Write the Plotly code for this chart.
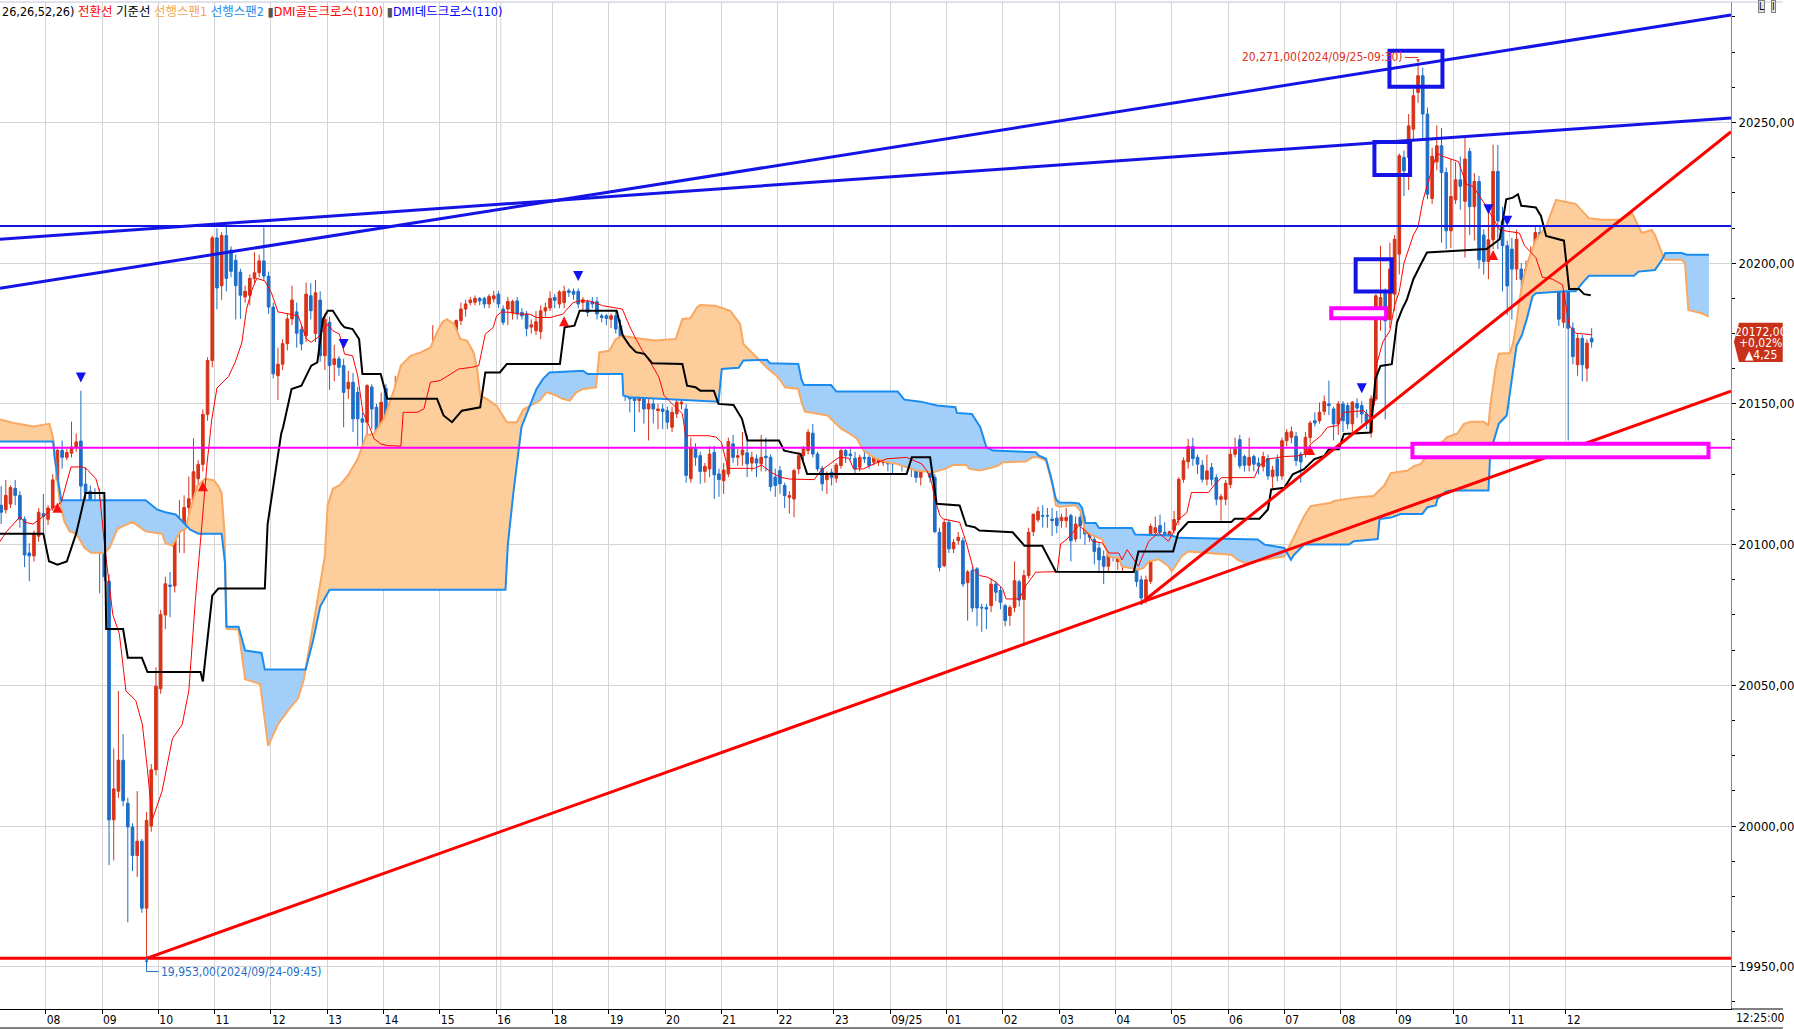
import plotly.graph_objects as go

# 5-minute bars, bar 0 = 07:10 (09/24), last bar 339 = 12:25 (09/25)
opens = [
    20114.0, 20112.4, 20114.4, 20120.0, 20117.5, 20109.0, 20097.0, 20096.0, 20103.0, 20111.0,
    20109.0, 20113.0, 20123.0, 20133.5, 20131.0, 20132.5, 20134.5, 20136.8, 20121.5, 20119.0,
    20107.0, 20101.0, 20100.8, 20087.0, 20002.2, 20012.4, 20023.4, 20008.1, 19999.7, 19989.5,
    19994.6, 19970.8, 20000.0, 20020.0, 20048.8, 20075.0, 20085.6, 20085.3, 20104.7, 20107.3,
    20113.2, 20115.8, 20123.4, 20128.5, 20146.3, 20165.4, 20209.0, 20192.0, 20209.8, 20204.7,
    20201.0, 20196.8, 20188.0, 20188.6, 20194.6, 20196.6, 20200.8, 20195.4, 20184.4, 20160.0,
    20164.1, 20171.4, 20180.2, 20182.7, 20176.4, 20174.2, 20188.4, 20175.0, 20186.9, 20167.1,
    20179.0, 20164.0, 20166.0, 20163.6, 20155.4, 20157.7, 20154.1, 20144.7, 20143.5, 20156.0,
    20148.8, 20136.4, 20155.5, 20143.5, 20151.2, 20153.5, 20149.4, 20151.8, 20151.8, 20151.2,
    20148.8, 20160.3, 20159.5, 20170.1, 20147.6, 20171.3, 20169.7, 20163.6, 20179.6, 20183.7,
    20186.0, 20186.1, 20187.5, 20187.5, 20185.5, 20187.3, 20189.0, 20183.7, 20183.7, 20182.3,
    20186.6, 20182.5, 20181.9, 20177.3, 20176.0, 20175.7, 20183.0, 20184.1, 20187.8, 20185.5,
    20186.0, 20190.2, 20190.0, 20190.0, 20186.0, 20186.3, 20186.3, 20186.3, 20181.3, 20181.3,
    20180.1, 20181.3, 20177.8, 20171.3, 20153.5, 20153.0, 20151.2, 20153.0, 20148.2, 20150.0,
    20147.6, 20148.2, 20147.6, 20141.7, 20146.5, 20150.0, 20148.2, 20123.4, 20134.0, 20131.6,
    20126.0, 20126.9, 20132.8, 20125.1, 20122.7, 20125.1, 20135.8, 20131.0, 20131.9, 20132.6,
    20129.0, 20130.5, 20128.7, 20131.4, 20131.0, 20124.0, 20126.3, 20121.0, 20116.8, 20116.2,
    20126.9, 20131.6, 20133.4, 20139.6, 20132.2, 20127.1, 20123.1, 20125.7, 20123.6, 20128.1,
    20133.4, 20132.2, 20130.7, 20127.5, 20131.0, 20131.0, 20129.3, 20129.3, 20129.1, 20140.0,
    20134.0, 20131.6, 20133.4, 20130.1, 20130.7, 20128.1, 20123.9, 20126.5, 20131.9, 20123.9,
    20104.4, 20092.5, 20107.9, 20098.5, 20101.4, 20101.4, 20086.5, 20090.8, 20091.4, 20077.7,
    20077.7, 20078.3, 20086.0, 20083.7, 20078.3, 20074.8, 20077.7, 20086.8, 20080.5, 20089.0,
    20104.6, 20108.8, 20110.3, 20110.3, 20109.1, 20109.4, 20108.5, 20108.5, 20110.3, 20102.0,
    20109.7, 20107.9, 20104.4, 20101.8, 20098.8, 20095.8, 20092.3, 20100.8, 20094.0, 20092.3,
    20094.0, 20097.0, 20097.6, 20087.5, 20081.0, 20087.0, 20104.2, 20106.8, 20104.4, 20103.4,
    20105.1, 20108.9, 20123.2, 20129.4, 20134.9, 20131.0, 20128.2, 20123.2, 20127.4, 20123.8,
    20116.1, 20116.1, 20121.4, 20132.1, 20137.3, 20131.3, 20128.2, 20131.3, 20129.0, 20127.7,
    20130.6, 20124.2, 20130.4, 20124.4, 20136.9, 20138.1, 20138.5, 20132.1, 20132.1, 20138.1,
    20144.0, 20144.0, 20147.3, 20150.0, 20148.2, 20142.9, 20150.0, 20149.4, 20142.9, 20150.2,
    20149.4, 20146.4, 20139.9, 20151.7, 20181.0, 20189.6, 20180.0, 20189.0, 20203.2, 20237.6,
    20237.6, 20247.6, 20260.7, 20266.6, 20253.0, 20223.0, 20236.0, 20241.7, 20232.2, 20211.5,
    20222.5, 20229.6, 20222.0, 20239.7, 20220.1, 20229.0, 20210.0, 20200.6, 20208.3, 20232.6,
    20215.0, 20206.2, 20205.0, 20197.9, 20197.9, 20194.3, 20194.3, 20199.0, 20210.9, 20209.7,
    20199.0, 20206.2, 20194.3, 20179.0, 20191.9, 20176.9, 20163.9, 20173.3, 20162.7, 20173.3,
]
highs = [
    20120.8, 20123.0, 20121.0, 20123.0, 20119.0, 20110.0, 20100.5, 20105.0, 20113.0, 20118.0,
    20114.0, 20125.0, 20134.0, 20137.0, 20134.0, 20143.7, 20139.5, 20154.7, 20127.5, 20121.0,
    20120.0, 20120.0, 20104.0, 20089.5, 20027.6, 20048.0, 20032.7, 20010.0, 20001.0, 20012.4,
    19995.4, 20005.0, 20022.0, 20056.4, 20076.8, 20088.6, 20090.3, 20110.7, 20115.8, 20117.5,
    20124.2, 20137.8, 20130.0, 20148.0, 20166.6, 20209.8, 20212.4, 20211.0, 20214.0, 20206.0,
    20203.0, 20198.0, 20192.0, 20196.0, 20203.9, 20203.0, 20212.7, 20197.0, 20186.0, 20170.0,
    20173.0, 20182.0, 20192.0, 20186.0, 20178.0, 20193.1, 20192.9, 20194.0, 20190.0, 20182.0,
    20181.0, 20171.0, 20167.0, 20166.0, 20161.8, 20161.0, 20156.0, 20147.0, 20157.0, 20157.0,
    20150.0, 20154.0, 20157.0, 20152.0, 20160.0, 20158.0, 20158.0, 20158.0, 20156.0, 20153.0,
    20163.0, 20168.0, 20178.0, 20173.0, 20174.0, 20177.8, 20171.0, 20180.0, 20186.0, 20187.0,
    20188.0, 20188.5, 20188.0, 20188.0, 20189.0, 20190.2, 20190.2, 20185.0, 20188.0, 20187.0,
    20188.0, 20184.0, 20183.0, 20180.0, 20183.0, 20185.0, 20186.0, 20190.0, 20189.0, 20190.4,
    20192.0, 20191.0, 20191.0, 20191.0, 20188.0, 20187.0, 20188.0, 20188.0, 20182.0, 20182.0,
    20182.0, 20183.0, 20180.0, 20172.0, 20155.0, 20155.0, 20156.0, 20155.0, 20152.0, 20152.0,
    20150.0, 20150.0, 20149.0, 20149.0, 20152.0, 20156.0, 20150.0, 20138.0, 20136.0, 20133.0,
    20129.0, 20135.0, 20135.0, 20127.0, 20129.0, 20138.0, 20139.0, 20134.0, 20140.0, 20139.0,
    20133.0, 20132.0, 20139.0, 20138.0, 20132.0, 20127.0, 20128.0, 20122.0, 20119.0, 20127.0,
    20133.0, 20135.0, 20141.0, 20142.9, 20133.0, 20128.0, 20126.0, 20127.0, 20129.0, 20134.0,
    20134.0, 20134.0, 20133.0, 20132.0, 20135.0, 20132.0, 20134.0, 20134.0, 20141.0, 20141.0,
    20140.5, 20136.0, 20135.0, 20133.0, 20132.0, 20129.0, 20128.0, 20134.0, 20134.0, 20125.0,
    20106.0, 20109.0, 20109.0, 20102.0, 20104.5, 20102.6, 20091.0, 20092.0, 20092.0, 20079.0,
    20079.0, 20088.0, 20087.0, 20085.0, 20079.0, 20078.5, 20094.0, 20087.5, 20091.0, 20106.0,
    20111.0, 20113.5, 20114.0, 20113.0, 20113.0, 20112.0, 20111.0, 20113.0, 20111.0, 20110.0,
    20111.0, 20110.0, 20106.0, 20103.0, 20101.0, 20098.0, 20100.0, 20102.0, 20099.0, 20099.0,
    20098.0, 20102.0, 20099.0, 20089.0, 20089.0, 20107.5, 20110.0, 20110.7, 20108.0, 20105.0,
    20112.0, 20124.0, 20131.0, 20137.6, 20138.0, 20132.0, 20130.0, 20132.0, 20129.0, 20125.0,
    20118.0, 20123.0, 20134.0, 20138.0, 20139.0, 20132.0, 20138.0, 20132.0, 20131.0, 20133.0,
    20132.0, 20128.0, 20132.0, 20138.0, 20141.0, 20142.0, 20140.0, 20133.0, 20140.0, 20144.0,
    20147.0, 20150.5, 20153.0, 20158.3, 20149.0, 20151.0, 20151.0, 20150.5, 20151.0, 20152.0,
    20151.0, 20148.0, 20153.0, 20189.0, 20206.2, 20191.0, 20207.3, 20210.0, 20239.0, 20240.0,
    20253.0, 20262.0, 20271.0, 20269.5, 20255.3, 20241.0, 20249.0, 20248.0, 20234.0, 20237.0,
    20236.0, 20237.9, 20244.7, 20241.0, 20232.0, 20231.0, 20212.0, 20219.5, 20242.1, 20242.0,
    20220.0, 20208.0, 20209.0, 20212.0, 20200.0, 20201.0, 20206.0, 20213.0, 20213.0, 20212.0,
    20210.0, 20208.0, 20197.0, 20196.0, 20193.0, 20179.0, 20175.0, 20174.5, 20173.0, 20176.9,
]
lows = [
    20107.3, 20111.0, 20113.0, 20114.0, 20106.0, 20092.0, 20087.0, 20094.0, 20101.0, 20104.0,
    20107.0, 20112.0, 20121.0, 20127.0, 20130.0, 20131.0, 20133.0, 20115.8, 20116.0, 20097.0,
    20097.0, 20082.7, 20087.0, 19986.1, 19987.8, 20010.0, 20007.0, 19965.8, 19984.0, 19981.9,
    19969.2, 19953.0, 19998.0, 20018.0, 20047.0, 20070.0, 20074.2, 20083.0, 20097.1, 20097.0,
    20109.0, 20114.0, 20121.0, 20126.0, 20144.0, 20163.0, 20183.6, 20187.0, 20190.0, 20195.0,
    20180.0, 20180.2, 20186.0, 20185.0, 20193.0, 20195.0, 20194.0, 20182.0, 20159.0, 20151.4,
    20162.0, 20169.0, 20178.0, 20170.0, 20169.0, 20172.0, 20180.0, 20172.0, 20165.0, 20162.0,
    20155.0, 20158.0, 20160.0, 20141.7, 20151.8, 20140.0, 20135.0, 20109.2, 20134.0, 20141.0,
    20134.0, 20133.5, 20141.0, 20140.0, 20140.0, 20145.0, 20143.0, 20145.0, 20146.0, 20145.0,
    20144.0, 20150.0, 20157.0, 20141.0, 20139.4, 20166.0, 20161.0, 20162.0, 20178.0, 20181.0,
    20185.0, 20185.0, 20185.0, 20184.0, 20184.0, 20186.0, 20184.0, 20178.0, 20178.0, 20180.0,
    20180.0, 20180.0, 20174.0, 20175.0, 20174.5, 20173.0, 20181.0, 20183.0, 20184.0, 20184.0,
    20184.0, 20188.0, 20187.0, 20184.0, 20183.0, 20181.0, 20184.0, 20180.0, 20179.0, 20178.0,
    20177.0, 20175.0, 20168.0, 20151.0, 20147.0, 20140.0, 20147.0, 20143.0, 20137.0, 20143.0,
    20141.0, 20141.0, 20141.0, 20140.0, 20145.0, 20148.0, 20122.0, 20122.0, 20128.0, 20121.6,
    20122.0, 20124.0, 20116.2, 20117.0, 20118.0, 20124.0, 20129.0, 20128.0, 20128.0, 20124.0,
    20126.0, 20124.0, 20126.0, 20126.0, 20119.0, 20117.0, 20118.0, 20113.0, 20111.0, 20109.7,
    20125.0, 20130.0, 20132.0, 20131.0, 20126.0, 20119.0, 20118.0, 20121.0, 20122.0, 20127.0,
    20129.0, 20130.0, 20125.0, 20126.0, 20129.0, 20127.0, 20128.0, 20128.0, 20128.0, 20126.0,
    20125.0, 20130.0, 20126.0, 20128.0, 20124.0, 20122.0, 20121.0, 20126.0, 20122.0, 20104.0,
    20090.5, 20092.0, 20097.0, 20097.0, 20100.0, 20085.0, 20073.0, 20076.0, 20071.0, 20069.0,
    20070.0, 20076.0, 20080.0, 20077.0, 20071.0, 20071.2, 20076.0, 20078.0, 20064.1, 20088.0,
    20103.0, 20108.0, 20106.0, 20106.0, 20103.0, 20104.0, 20106.0, 20106.0, 20094.0, 20101.0,
    20102.0, 20100.0, 20101.0, 20093.0, 20090.0, 20086.0, 20090.0, 20094.0, 20091.0, 20090.0,
    20092.0, 20095.0, 20085.0, 20078.5, 20079.0, 20086.0, 20102.0, 20099.0, 20100.0, 20100.0,
    20104.0, 20107.0, 20122.0, 20127.0, 20128.0, 20125.0, 20122.0, 20121.0, 20121.0, 20114.0,
    20108.5, 20114.0, 20120.0, 20131.0, 20127.0, 20126.0, 20126.0, 20126.0, 20125.0, 20126.0,
    20123.0, 20120.0, 20122.5, 20123.0, 20135.0, 20136.0, 20128.0, 20122.0, 20131.0, 20136.0,
    20142.0, 20143.0, 20146.0, 20146.0, 20137.0, 20139.0, 20140.0, 20141.0, 20140.0, 20145.0,
    20143.0, 20141.0, 20138.0, 20151.0, 20176.0, 20144.5, 20177.0, 20183.0, 20196.0, 20223.9,
    20226.0, 20244.0, 20257.0, 20244.1, 20222.7, 20221.0, 20233.0, 20207.3, 20205.0, 20205.3,
    20221.0, 20219.0, 20202.0, 20210.0, 20208.0, 20198.0, 20196.0, 20194.3, 20205.0, 20205.0,
    20190.0, 20181.5, 20180.0, 20194.0, 20174.0, 20185.0, 20190.0, 20196.0, 20205.0, 20190.0,
    20195.0, 20190.0, 20177.7, 20177.0, 20137.0, 20164.0, 20160.0, 20158.0, 20157.9, 20170.0,
]
closes = [
    20111.5, 20117.5, 20120.3, 20117.5, 20109.0, 20096.3, 20096.0, 20104.0, 20111.5, 20110.0,
    20113.0, 20123.0, 20133.5, 20131.0, 20132.7, 20134.7, 20136.5, 20120.8, 20118.3, 20106.4,
    20102.0, 20100.0, 20088.6, 20002.2, 20013.2, 20023.4, 20009.0, 19999.7, 19989.5, 19994.6,
    19970.8, 20002.0, 20020.0, 20049.7, 20075.1, 20086.1, 20085.2, 20105.6, 20108.1, 20113.2,
    20116.3, 20125.9, 20128.5, 20146.3, 20165.4, 20209.0, 20191.2, 20209.8, 20194.6, 20197.1,
    20192.0, 20188.6, 20190.0, 20194.6, 20196.6, 20200.8, 20195.4, 20184.4, 20160.7, 20164.1,
    20171.4, 20180.2, 20186.9, 20175.1, 20171.3, 20189.0, 20183.1, 20189.5, 20167.1, 20180.1,
    20163.6, 20166.0, 20163.0, 20154.1, 20157.7, 20144.7, 20144.7, 20143.5, 20156.5, 20148.2,
    20137.0, 20150.6, 20144.7, 20150.6, 20154.1, 20149.4, 20152.0, 20153.5, 20153.5, 20148.8,
    20160.6, 20159.5, 20170.1, 20147.6, 20171.3, 20170.1, 20163.6, 20179.6, 20183.7, 20185.5,
    20186.9, 20187.5, 20186.6, 20185.5, 20188.2, 20188.4, 20185.5, 20179.0, 20186.4, 20186.4,
    20182.0, 20181.3, 20176.8, 20178.1, 20179.2, 20183.1, 20184.2, 20187.5, 20186.8, 20189.8,
    20190.0, 20189.6, 20189.0, 20185.5, 20187.0, 20182.5, 20185.5, 20182.0, 20180.7, 20180.4,
    20181.3, 20176.6, 20170.7, 20153.5, 20151.8, 20151.2, 20153.0, 20148.2, 20150.0, 20148.2,
    20148.2, 20147.3, 20143.5, 20147.0, 20150.6, 20150.6, 20124.6, 20134.6, 20131.0, 20126.0,
    20127.8, 20132.2, 20124.8, 20123.1, 20126.5, 20136.6, 20131.0, 20131.6, 20133.6, 20128.7,
    20131.0, 20129.0, 20131.0, 20130.9, 20120.6, 20121.0, 20121.6, 20117.4, 20117.4, 20126.3,
    20131.6, 20134.0, 20139.9, 20132.2, 20126.9, 20121.6, 20125.1, 20123.9, 20128.3, 20133.4,
    20131.6, 20131.6, 20126.9, 20131.0, 20130.5, 20128.1, 20133.4, 20133.4, 20139.0, 20128.7,
    20128.7, 20134.0, 20130.5, 20131.3, 20128.7, 20123.9, 20127.5, 20131.9, 20123.9, 20104.6,
    20091.9, 20107.9, 20098.5, 20100.8, 20102.6, 20086.0, 20090.3, 20077.5, 20077.5, 20077.5,
    20077.1, 20086.0, 20083.1, 20079.5, 20073.0, 20077.7, 20087.2, 20080.3, 20089.0, 20104.4,
    20110.8, 20111.8, 20110.1, 20110.2, 20108.5, 20106.8, 20109.7, 20109.7, 20101.4, 20107.3,
    20106.8, 20103.8, 20102.6, 20097.6, 20094.6, 20092.3, 20098.8, 20097.0, 20098.0, 20097.6,
    20097.0, 20100.6, 20086.9, 20081.0, 20087.5, 20106.5, 20106.0, 20104.4, 20103.2, 20104.6,
    20108.9, 20123.2, 20129.8, 20134.9, 20130.6, 20128.6, 20123.2, 20126.2, 20123.2, 20116.1,
    20117.0, 20121.8, 20132.1, 20133.9, 20128.0, 20128.2, 20131.0, 20128.6, 20128.0, 20131.3,
    20124.4, 20126.5, 20124.4, 20136.9, 20139.9, 20140.1, 20129.8, 20129.4, 20138.1, 20143.2,
    20143.2, 20147.0, 20150.8, 20149.4, 20142.9, 20150.0, 20144.0, 20142.9, 20150.6, 20148.5,
    20146.4, 20143.5, 20151.8, 20188.4, 20187.8, 20179.5, 20197.9, 20208.5, 20238.2, 20232.8,
    20248.8, 20259.5, 20266.6, 20253.0, 20224.5, 20238.0, 20241.7, 20232.2, 20211.5, 20223.7,
    20229.6, 20227.3, 20237.0, 20220.1, 20229.0, 20201.2, 20200.6, 20208.3, 20232.6, 20215.0,
    20206.2, 20191.9, 20197.9, 20208.5, 20194.3, 20197.9, 20202.6, 20210.9, 20209.1, 20206.2,
    20206.2, 20194.3, 20180.1, 20191.9, 20176.9, 20166.8, 20173.3, 20163.9, 20171.6, 20172.0,
]

# first bar of every hour and its axis label
hour_first_bar = [10, 22, 34, 46, 58, 70, 82, 94, 106, 118, 130, 142, 154, 166,
                  178, 190, 202, 214, 226, 238, 250, 262, 274, 286, 298, 310, 322, 334]
hour_labels = ["08", "09", "10", "11", "12", "13", "14", "15", "16", "18", "19", "20", "21", "22",
               "23", "09/25", "01", "02", "03", "04", "05", "06", "07", "08", "09", "10", "11", "12"]

# 전환선 (conversion line) as (bar, price)
conv_bars = [-0.5, 1.2, 4.0, 5.0, 6.8, 8.9, 11.1, 12.8, 14.9, 17.4, 18.3, 20.2, 20.9, 22.0, 23.8, 25.2,
             26.6, 28.7, 30.1, 31.2, 32.2, 34.3, 36.5, 38.6, 40.0, 41.4, 42.8, 43.9, 44.9, 46.0, 48.5,
             49.9, 51.3, 52.3, 53.4, 54.5, 56.2, 57.6, 59.0, 61.2, 63.3, 65.1, 66.1, 67.5, 69.6, 70.7,
             72.1, 73.2, 74.9, 76.0, 77.1, 78.1, 79.5, 80.9, 82.3, 85.2, 85.7, 88.7, 90.1, 91.5, 93.6,
             95.8, 97.5, 100.3, 101.8, 103.2, 104.9, 105.6, 106.7, 108.5, 110.6, 112.7, 114.1, 117.0,
             119.7, 121.9, 123.3, 125.4, 128.2, 132.4, 133.9, 135.3, 136.7, 138.8, 140.2, 141.3, 142.3,
             145.2, 145.9, 150.7, 152.4, 153.5, 154.9, 160.6, 162.1, 164.1, 166.2, 168.0, 173.3, 174.7,
             177.5, 178.6, 180.7, 181.7, 183.8, 186.0, 188.8, 193.0, 196.2, 197.3, 198.3, 199.0, 200.1,
             200.8, 204.3, 205.7, 207.2, 208.6, 210.3, 212.1, 213.5, 214.2, 217.0, 218.4, 220.5, 225.1,
             225.8, 227.2, 229.7, 231.5, 232.6, 234.7, 236.1, 238.2, 238.9, 240.0, 242.4, 244.6, 246.7,
             248.8, 249.8, 250.9, 252.7, 253.7, 257.3, 258.7, 260.1, 267.1, 268.2, 270.0, 273.5, 276.3,
             277.7, 279.1, 281.3, 282.7, 284.8, 286.2, 290.4, 291.8, 292.7, 293.0, 294.5, 296.0, 297.0,
             298.0, 299.0, 300.0, 301.0, 302.0, 303.0, 304.0, 306.0, 307.4, 310.6, 312.3, 313.7, 316.6,
             319.4, 323.6, 324.7, 327.1, 328.5, 330.7, 332.8, 334.2, 335.6, 337.7, 339.0]
conv_price = [20100.5, 20104.7, 20109.9, 20108.0, 20107.3, 20109.9, 20113.2, 20115.0, 20127.6, 20127.6,
              20126.8, 20123.4, 20119.2, 20100.5, 20075.1, 20068.3, 20048.0, 20044.6, 20036.1, 20020.0,
              20002.2, 20012.4, 20031.0, 20036.1, 20048.0, 20080.2, 20107.3, 20129.0, 20144.6, 20155.6,
              20159.8, 20164.9, 20171.7, 20183.6, 20190.3, 20194.6, 20193.7, 20189.5, 20182.7, 20181.9,
              20181.3, 20173.0, 20171.9, 20173.6, 20178.4, 20176.0, 20174.8, 20167.7, 20167.1, 20160.0,
              20147.0, 20143.5, 20137.6, 20135.8, 20135.2, 20135.0, 20147.0, 20147.0, 20148.2, 20157.7,
              20158.3, 20160.6, 20162.4, 20163.0, 20163.6, 20174.8, 20177.2, 20181.3, 20182.7, 20182.5,
              20181.9, 20181.9, 20180.7, 20180.7, 20181.9, 20186.0, 20186.6, 20186.6, 20184.9, 20183.7,
              20177.8, 20173.0, 20168.9, 20163.6, 20159.5, 20153.0, 20151.2, 20146.5, 20138.7, 20138.7,
              20138.2, 20136.4, 20127.1, 20127.1, 20128.3, 20125.7, 20123.9, 20123.3, 20123.1, 20126.3,
              20129.9, 20131.0, 20130.7, 20126.9, 20126.9, 20128.7, 20130.5, 20131.0, 20128.7, 20126.3,
              20122.2, 20116.2, 20110.3, 20109.1, 20107.9, 20100.8, 20091.4, 20089.0, 20088.4, 20086.6,
              20084.2, 20080.7, 20080.7, 20085.4, 20090.2, 20090.4, 20100.2, 20102.0, 20106.8, 20104.4,
              20101.2, 20100.6, 20097.0, 20097.0, 20094.6, 20098.2, 20092.3, 20101.2, 20104.2, 20101.2,
              20104.2, 20108.9, 20111.3, 20118.5, 20118.5, 20121.4, 20123.8, 20123.8, 20128.0, 20130.4,
              20131.3, 20131.5, 20132.1, 20135.7, 20138.7, 20141.7, 20142.3, 20147.0, 20147.6, 20145.2,
              20150.0, 20163.0, 20172.0, 20176.0, 20185.0, 20190.0, 20200.0, 20205.0, 20210.0, 20213.0,
              20222.0, 20228.0, 20239.0, 20237.9, 20236.1, 20228.0, 20227.3, 20220.1, 20211.8, 20210.7,
              20206.2, 20202.0, 20195.0, 20194.3, 20192.3, 20178.0, 20175.1, 20174.8, 20174.5]

# 기준선 (base line)
base_bars = [-0.5, 9.0, 10.2, 12.0, 14.0, 16.0, 18.0, 22.0, 22.4, 26.0, 27.0, 30.0, 31.2, 42.5, 43.0, 45.0,
             46.3, 56.2, 56.8, 59.7, 60.1, 61.9, 64.0, 66.1, 67.4, 68.6, 69.6, 70.7, 72.5, 73.2, 74.9,
             76.3, 77.0, 80.9, 82.3, 92.9, 94.3, 96.1, 98.2, 102.1, 103.2, 106.3, 107.8, 119.1, 120.1,
             122.2, 123.3, 131.2, 132.5, 133.9, 135.3, 137.1, 138.8, 145.2, 146.2, 148.0, 149.0, 151.9,
             152.9, 156.1, 157.9, 159.1, 165.8, 166.9, 170.4, 171.8, 193.0, 194.1, 198.0, 199.4, 204.3,
             205.7, 207.5, 208.5, 215.6, 218.1, 221.9, 224.8, 241.4, 242.4, 249.8, 250.9, 253.0, 262.2,
             262.9, 268.2, 270.0, 270.7, 273.5, 275.3, 277.7, 279.9, 282.0, 283.0, 285.1, 286.2, 291.9,
             292.9, 294.0, 296.4, 297.5, 298.6, 299.6, 301.0, 302.4, 303.9, 316.6, 319.4, 320.8, 322.2,
             323.3, 324.0, 327.1, 328.2, 329.3, 333.1, 334.2, 336.3, 337.4, 338.8]
base_price = [20103.9, 20103.9, 20094.1, 20092.9, 20094.0, 20104.0, 20118.3, 20118.3, 20070.0, 20070.0,
              20059.8, 20059.8, 20054.7, 20054.7, 20051.4, 20081.9, 20084.4, 20084.4, 20107.3, 20139.5,
              20141.7, 20155.3, 20156.5, 20163.6, 20164.8, 20180.1, 20183.1, 20183.1, 20178.4, 20177.2,
              20176.6, 20173.0, 20160.6, 20160.6, 20151.8, 20151.8, 20145.9, 20143.5, 20147.6, 20148.8,
              20161.2, 20161.2, 20164.2, 20164.2, 20177.2, 20177.8, 20183.1, 20183.1, 20174.3, 20170.8,
              20168.4, 20167.8, 20164.4, 20164.2, 20156.5, 20155.9, 20154.7, 20154.7, 20150.0, 20149.6,
              20144.7, 20137.0, 20137.0, 20133.4, 20132.2, 20125.1, 20125.1, 20131.0, 20131.0, 20114.5,
              20113.9, 20106.8, 20106.2, 20105.0, 20104.4, 20099.6, 20099.6, 20090.4, 20090.3, 20097.6,
              20097.6, 20104.2, 20108.0, 20108.0, 20109.2, 20109.2, 20112.5, 20119.6, 20120.2, 20125.0,
              20126.8, 20130.4, 20131.5, 20133.9, 20133.9, 20139.3, 20139.8, 20158.8, 20163.5, 20164.1,
              20178.9, 20183.6, 20187.0, 20194.3, 20199.0, 20203.8, 20205.0, 20208.5, 20222.7, 20223.3,
              20224.5, 20220.4, 20219.8, 20216.8, 20209.7, 20208.0, 20190.8, 20190.8, 20189.0, 20188.6]

# 선행스팬1 (leading span 1)
span1_bars = [-0.5, 3.3, 6.8, 10.3, 11.0, 12.0, 12.5, 13.5, 14.6, 16.0, 17.8, 19.2, 22.0, 23.1, 24.8, 28.0,
              30.8, 34.3, 35.0, 36.5, 38.2, 39.3, 40.3, 41.8, 43.5, 45.3, 46.3, 47.0, 47.6, 48.1, 50.6,
              52.0, 55.2, 56.9, 59.0, 61.2, 63.3, 64.5, 66.0, 67.0, 68.0, 69.0, 69.6, 70.7, 72.1, 73.9,
              76.0, 77.8, 79.5, 81.6, 83.8, 85.2, 87.3, 89.4, 91.5, 92.9, 94.0, 95.0, 96.5, 97.9, 99.3,
              100.7, 101.5, 102.1, 103.5, 105.6, 107.8, 109.9, 111.3, 114.8, 116.2, 117.6, 119.7, 121.2,
              122.6, 124.0, 126.8, 127.5, 129.6, 131.0, 132.4, 136.7, 139.5, 143.8, 144.5, 145.2, 146.9,
              148.3, 149.0, 152.2, 155.4, 156.5, 157.5, 158.2, 159.3, 162.1, 163.5, 165.6, 167.1, 169.9,
              170.6, 171.3, 173.4, 176.2, 177.6, 179.1, 180.3, 182.4, 183.8, 186.0, 188.8, 190.9, 193.0,
              195.1, 198.7, 200.1, 201.5, 202.9, 205.7, 206.4, 208.6, 211.4, 212.5, 213.5, 218.4, 219.8,
              221.2, 222.7, 224.1, 224.8, 225.5, 229.0, 230.1, 231.1, 234.7, 236.1, 238.2, 238.9, 242.4,
              243.5, 244.6, 246.7, 248.8, 249.5, 251.6, 253.0, 258.0, 262.2, 263.6, 265.0, 273.5, 276.3,
              277.7, 279.1, 283.4, 284.1, 286.2, 288.3, 292.5, 294.8, 296.2, 299.8, 301.2, 302.6, 303.6,
              305.4, 306.5, 308.2, 310.3, 311.8, 313.2, 316.0, 317.0, 317.4, 318.5, 319.2, 321.6, 322.3,
              323.0, 323.5, 324.5, 325.5, 327.1, 329.3, 331.4, 333.1, 335.6, 336.7, 338.4, 341.3, 345.5,
              347.6, 348.7, 349.7, 351.8, 352.5, 354.0, 354.7, 358.2, 358.9, 359.6, 362.4, 364.0]
span1_price = [20144.6, 20143.0, 20142.0, 20142.9, 20138.5, 20124.0, 20115.0, 20108.1, 20104.7, 20103.9,
               20098.8, 20097.1, 20097.1, 20098.8, 20105.6, 20108.1, 20104.7, 20103.9, 20100.5, 20099.7,
               20104.7, 20105.5, 20112.4, 20120.8, 20123.4, 20122.9, 20120.8, 20118.3, 20104.5, 20070.0,
               20069.8, 20052.2, 20050.5, 20028.5, 20036.1, 20041.2, 20045.4, 20052.0, 20066.0, 20076.0,
               20086.0, 20096.0, 20114.0, 20119.9, 20121.0, 20124.6, 20130.5, 20138.8, 20139.5, 20144.7,
               20155.3, 20163.6, 20167.1, 20168.3, 20170.0, 20175.4, 20179.0, 20180.1, 20178.4, 20173.0,
               20172.5, 20168.3, 20162.0, 20153.0, 20151.8, 20149.4, 20143.5, 20143.5, 20148.0, 20151.2,
               20154.1, 20153.5, 20151.8, 20151.2, 20154.1, 20155.3, 20155.9, 20168.3, 20168.9, 20173.0,
               20174.2, 20173.1, 20172.5, 20173.1, 20177.0, 20180.2, 20180.4, 20184.3, 20185.1, 20184.9,
               20183.1, 20180.7, 20178.4, 20171.3, 20169.5, 20164.8, 20162.4, 20159.5, 20155.9, 20155.3,
               20150.6, 20147.3, 20146.8, 20145.9, 20143.5, 20141.1, 20140.0, 20137.6, 20133.4, 20131.0,
               20129.3, 20128.7, 20127.5, 20126.3, 20125.7, 20126.3, 20127.1, 20128.3, 20128.3, 20126.9,
               20126.3, 20127.5, 20128.1, 20129.3, 20129.5, 20131.0, 20131.0, 20129.8, 20121.0, 20114.0,
               20113.5, 20114.0, 20111.8, 20104.5, 20101.8, 20095.8, 20095.2, 20092.3, 20091.1, 20091.7,
               20094.0, 20094.8, 20092.3, 20090.5, 20095.8, 20097.6, 20097.0, 20096.4, 20094.6, 20093.5,
               20095.8, 20105.4, 20110.1, 20113.7, 20114.9, 20115.5, 20116.1, 20116.7, 20117.3, 20121.0,
               20125.4, 20126.3, 20128.0, 20128.7, 20131.0, 20132.8, 20135.3, 20138.2, 20139.4, 20142.9,
               20143.7, 20143.7, 20142.3, 20149.4, 20162.4, 20167.8, 20168.1, 20172.0, 20179.0, 20186.0,
               20195.0, 20201.0, 20208.3, 20213.0, 20222.5, 20222.0, 20221.1, 20219.0, 20216.0, 20215.4,
               20215.4, 20217.8, 20214.0, 20210.7, 20211.8, 20210.0, 20203.6, 20201.2, 20201.2, 20200.0,
               20183.4, 20182.2, 20181.0]

# 선행스팬2 (leading span 2)
span2_bars = [-0.5, 11.1, 11.4, 12.0, 12.8, 30.8, 33.3, 35.0, 37.2, 38.2, 40.3, 42.1, 47.0, 47.7, 48.0, 50.6,
              52.0, 55.5, 56.2, 64.9, 66.5, 68.0, 70.0, 107.5, 108.0, 109.2, 110.9, 112.7, 114.1, 115.5,
              116.9, 124.0, 125.0, 132.4, 132.6, 133.9, 145.0, 152.9, 153.6, 157.2, 158.2, 163.2, 163.9,
              169.9, 170.6, 171.1, 176.9, 178.0, 191.1, 192.5, 196.0, 199.5, 203.4, 203.7, 206.9, 208.7,
              210.0, 211.4, 220.5, 221.2, 222.7, 223.7, 224.8, 225.5, 228.3, 229.7, 230.4, 231.1, 233.3,
              234.0, 241.0, 241.7, 249.5, 250.9, 267.8, 269.3, 273.5, 274.9, 275.6, 277.0, 277.7, 287.3,
              288.3, 292.5, 293.4, 293.8, 296.2, 298.3, 302.9, 304.0, 305.8, 306.1, 307.9, 308.9, 317.0,
              317.4, 319.2, 320.9, 323.0, 324.1, 325.2, 326.4, 327.1, 333.5, 335.6, 337.0, 338.4, 348.0,
              349.0, 352.5, 354.0, 354.7, 358.2, 359.3, 364.0]
span2_price = [20136.6, 20136.6, 20131.0, 20124.3, 20115.8, 20115.8, 20112.4, 20111.5, 20110.7, 20109.0,
               20105.3, 20103.9, 20103.9, 20093.7, 20070.8, 20070.8, 20062.4, 20061.5, 20055.6, 20055.6,
               20066.0, 20078.0, 20084.0, 20084.0, 20100.0, 20118.7, 20141.7, 20149.4, 20155.3, 20158.9,
               20161.2, 20161.8, 20160.6, 20160.6, 20153.0, 20152.4, 20151.5, 20150.8, 20162.4, 20162.8,
               20165.4, 20165.7, 20164.4, 20164.2, 20158.6, 20156.7, 20156.7, 20154.4, 20154.4, 20151.5,
               20150.8, 20149.4, 20148.8, 20146.8, 20146.4, 20141.7, 20134.6, 20133.4, 20132.8, 20131.6,
               20130.5, 20124.5, 20116.2, 20115.0, 20114.9, 20114.6, 20113.0, 20107.7, 20107.7, 20105.9,
               20105.9, 20103.6, 20103.2, 20102.4, 20101.8, 20100.0, 20098.8, 20094.6, 20096.4, 20098.8,
               20100.0, 20100.0, 20101.2, 20101.8, 20102.0, 20109.1, 20109.6, 20110.9, 20110.9, 20113.3,
               20113.9, 20116.2, 20118.8, 20119.2, 20119.2, 20132.8, 20142.9, 20145.9, 20170.7, 20174.3,
               20180.3, 20188.2, 20189.3, 20190.0, 20190.0, 20192.9, 20195.5, 20195.5, 20197.0, 20197.6,
               20201.2, 20203.6, 20203.6, 20203.0, 20203.0]

# points where the two spans cross (cloud colour changes)
twist_bars = [12.0, 39.5, 48.0, 65.0, 112.6, 127.1, 161.6, 274.0, 354.3]
twist_price = [20124.1, 20106.7, 20071.0, 20056.0, 20149.1, 20160.6, 20165.6, 20097.4, 20202.4]

# DMI signals
dead_cross_bars = [17, 73, 123, 290, 317, 321]
dead_cross_price = [20157.6, 20169.5, 20193.7, 20153.8, 20217.4, 20213.3]
golden_cross_bars = [12, 43, 120, 279, 318]
golden_cross_price = [20114.9, 20122.5, 20181.1, 20135.4, 20204.7]

# drawn trend lines (bar, price) -> (bar, price)
blue_trend_from = [(-0.24, 20191.1), (-0.24, 20208.5)]
blue_trend_to = [(368.7, 20288.2), (368.7, 20251.6)]
red_trend_from = [(31.0, 19953.0), (242.8, 20079.0)]
red_trend_to = [(368.7, 20154.5), (368.7, 20246.7)]
blue_level = 20213.2
red_level = 19953.0
magenta_level = 20134.4

# marked boxes: (bar0, bar1, price0, price1)
blue_boxes = [(295.9, 307.2, 20262.7, 20275.5), (292.7, 300.3, 20231.3, 20243.1), (288.7, 296.4, 20189.9, 20201.4)]
magenta_boxes = [(283.5, 295.2, 20180.4, 20184.0), (300.8, 363.9, 20131.0, 20135.8)]

high_bar, high_price = 302, 20271.0
low_bar, low_price = 31, 19953.0
last_price = 20172.0

FONT = "Liberation Sans Narrow, Arial Narrow, DejaVu Sans Condensed, Noto Sans CJK KR, sans-serif"
UP = "#d83218"
DOWN = "#1e6ec8"
ORANGE = "#f9a862"
PEACH = "#fdcd9c"
SKY_LINE = "#1a8cf0"
SKY = "#a2cffa"
TLBLUE = "#1414e6"

bars = list(range(len(closes)))
fig = go.Figure()

# cloud, one polygon per stretch between twists
edges = [span1_bars[0]] + twist_bars + [span1_bars[-1]]
for i in range(len(edges) - 1):
    a, b = edges[i], edges[i + 1]
    xs, ys = [], []
    if i > 0:
        xs.append(a); ys.append(twist_price[i - 1])
    for k, v in zip(span1_bars, span1_price):
        if a <= k <= b:
            xs.append(k); ys.append(v)
    if i < len(edges) - 2:
        xs.append(b); ys.append(twist_price[i])
    lower = [(k, v) for k, v in zip(span2_bars, span2_price) if a <= k <= b]
    for k, v in reversed(lower):
        xs.append(k); ys.append(v)
    fig.add_trace(go.Scatter(x=xs, y=ys, mode="lines", fill="toself",
                             fillcolor=PEACH if i % 2 == 0 else SKY,
                             line=dict(width=0), hoverinfo="skip"))

fig.add_trace(go.Scatter(x=span1_bars, y=span1_price, mode="lines", line=dict(color=ORANGE, width=2)))
fig.add_trace(go.Scatter(x=span2_bars, y=span2_price, mode="lines", line=dict(color=SKY_LINE, width=2)))

fig.add_trace(go.Candlestick(
    x=bars, open=opens, high=highs, low=lows, close=closes, whiskerwidth=0,
    increasing=dict(line=dict(color=UP, width=1), fillcolor=UP),
    decreasing=dict(line=dict(color=DOWN, width=1), fillcolor=DOWN),
))

fig.add_trace(go.Scatter(x=conv_bars, y=conv_price, mode="lines", line=dict(color="#ff0000", width=1)))
fig.add_trace(go.Scatter(x=base_bars, y=base_price, mode="lines", line=dict(color="black", width=2)))

fig.add_trace(go.Scatter(x=dead_cross_bars, y=dead_cross_price, mode="markers",
                         marker=dict(symbol="arrow-down", size=10, color="#1010f0")))
fig.add_trace(go.Scatter(x=golden_cross_bars, y=golden_cross_price, mode="markers",
                         marker=dict(symbol="arrow-up", size=10, color="#ff1010")))

shapes = []
# extra session separator next to the 16 o'clock grid line
shapes.append(dict(type="line", xref="x", yref="paper", x0=106.5, x1=106.5, y0=0, y1=1,
                   line=dict(color="#d4d4d4", width=1), layer="below"))
for (k0, p0), (k1, p1) in zip(blue_trend_from, blue_trend_to):
    shapes.append(dict(type="line", xref="x", yref="y", x0=k0, y0=p0, x1=k1, y1=p1,
                       line=dict(color=TLBLUE, width=3)))
for (k0, p0), (k1, p1) in zip(red_trend_from, red_trend_to):
    shapes.append(dict(type="line", xref="x", yref="y", x0=k0, y0=p0, x1=k1, y1=p1,
                       line=dict(color="#ff0000", width=3)))
shapes.append(dict(type="line", xref="paper", yref="y", x0=0, x1=1, y0=blue_level, y1=blue_level,
                   line=dict(color=TLBLUE, width=2)))
shapes.append(dict(type="line", xref="paper", yref="y", x0=0, x1=1, y0=red_level, y1=red_level,
                   line=dict(color="#ff0000", width=3)))
shapes.append(dict(type="line", xref="paper", yref="y", x0=0, x1=1, y0=magenta_level, y1=magenta_level,
                   line=dict(color="#ff00ff", width=2)))
for k0, k1, p0, p1 in blue_boxes:
    shapes.append(dict(type="rect", xref="x", yref="y", x0=k0, x1=k1, y0=p0, y1=p1,
                       line=dict(color=TLBLUE, width=4)))
for k0, k1, p0, p1 in magenta_boxes:
    shapes.append(dict(type="rect", xref="x", yref="y", x0=k0, x1=k1, y0=p0, y1=p1,
                       fillcolor="white", line=dict(color="#ff00ff", width=4)))

# leaders for the high / low labels
shapes.append(dict(type="line", xref="x", yref="y", x0=high_bar - 2.8, x1=high_bar,
                   y0=high_price + 2.1, y1=high_price + 2.1, line=dict(color="#e03020", width=1)))
shapes.append(dict(type="line", xref="x", yref="y", x0=low_bar, x1=low_bar,
                   y0=low_price, y1=low_price - 4.7, line=dict(color="#1f6fc8", width=1)))
shapes.append(dict(type="line", xref="x", yref="y", x0=low_bar, x1=low_bar + 2.6,
                   y0=low_price - 4.7, y1=low_price - 4.7, line=dict(color="#1f6fc8", width=1)))

# frame pieces outside the plot
shapes.append(dict(type="line", xref="paper", yref="paper", x0=0, x1=1.03, y0=1, y1=1,
                   line=dict(color="#c4c4d8", width=1)))
shapes.append(dict(type="line", xref="paper", yref="paper", x0=1, x1=1.03, y0=0, y1=0,
                   line=dict(color="black", width=1)))
shapes.append(dict(type="line", xref="paper", yref="paper", x0=0, x1=1.03, y0=-0.0189, y1=-0.0189,
                   line=dict(color="black", width=1)))

# current price tag on the axis
tag_top, tag_bot = last_price + 6.8, last_price - 7.1
shapes.append(dict(type="path", xref="paper", yref="y", fillcolor="#c8321a", line=dict(width=0),
                   path=f"M 1.0017,{last_price} L 1.0046,{tag_top} L 1.0299,{tag_top} "
                        f"L 1.0299,{tag_bot} L 1.0046,{tag_bot} Z"))

header = ("26,26,52,26) <span style='color:#ff0000'>전환선</span> 기준선 "
          "<span style='color:#f5a55a'>선행스팬1</span> <span style='color:#1e8cf0'>선행스팬2</span> "
          "<span style='color:#555'>▮</span><span style='color:#ff0000'>DMI골든크로스(110)</span> "
          "<span style='color:#555'>▮</span><span style='color:#0000ff'>DMI데드크로스(110)</span>")

annotations = [
    dict(xref="paper", yref="paper", x=0, y=1, xanchor="left", yanchor="top", showarrow=False,
         text=header, font=dict(size=12.5, color="black")),
    dict(xref="x", yref="y", x=high_bar - 2.8, y=high_price + 2.1, xanchor="right", yanchor="middle",
         showarrow=False, text="20,271,00(2024/09/25-09:30)", font=dict(size=12, color="#e03020")),
    dict(xref="x", yref="y", x=high_bar, y=high_price + 0.2, axref="x", ayref="y",
         ax=high_bar, ay=high_price + 2.1, showarrow=True, arrowhead=2, arrowsize=0.7,
         arrowwidth=1, arrowcolor="#e03020", text=""),
    dict(xref="x", yref="y", x=low_bar + 2.7, y=low_price - 4.7, xanchor="left", yanchor="middle",
         showarrow=False, text="19,953,00(2024/09/24-09:45)", font=dict(size=12, color="#1f6fc8")),
    dict(xref="x", yref="y", x=low_bar, y=low_price, axref="x", ayref="y",
         ax=low_bar, ay=low_price - 3.5, showarrow=True, arrowhead=2, arrowsize=0.7,
         arrowwidth=1, arrowcolor="#1f6fc8", text=""),
    dict(xref="paper", yref="paper", x=1.0017, y=-0.009, xanchor="left", yanchor="middle",
         showarrow=False, text="12:25:00", font=dict(size=12, color="black")),
    dict(xref="paper", yref="y", x=1.0172, y=last_price + 3.6, xanchor="center", yanchor="middle",
         showarrow=False, text="20172,00", font=dict(size=12, color="white")),
    dict(xref="paper", yref="y", x=1.0172, y=last_price - 0.4, xanchor="center", yanchor="middle",
         showarrow=False, text="+0,02%", font=dict(size=12, color="white")),
    dict(xref="paper", yref="y", x=1.0172, y=last_price - 4.6, xanchor="center", yanchor="middle",
         showarrow=False, text="▲4,25", font=dict(size=12, color="white")),
    dict(xref="paper", yref="paper", x=1.0175, y=0.996, xanchor="center", yanchor="middle",
         showarrow=False, text="L", font=dict(size=10, color="black"),
         bgcolor="#e4e4e4", bordercolor="#808080", borderwidth=1, borderpad=0),
    dict(xref="paper", yref="paper", x=1.0245, y=0.996, xanchor="center", yanchor="middle",
         showarrow=False, text="I", font=dict(size=10, color="black"),
         bgcolor="#e4e4e4", bordercolor="#808080", borderwidth=1, borderpad=0),
]

fig.update_layout(
    width=1794, height=1029,
    margin=dict(l=0, r=52, t=2, b=20),
    plot_bgcolor="white", paper_bgcolor="white",
    showlegend=False,
    separators=",.",
    boxgap=0.2,
    font=dict(family=FONT, size=12, color="black"),
    shapes=shapes,
    annotations=annotations,
    xaxis=dict(
        range=[-0.24, 368.7],
        tickvals=[b - 0.5 for b in hour_first_bar], ticktext=hour_labels,
        ticks="outside", ticklen=4, tickcolor="black",
        ticklabelposition="outside right",
        showline=True, linecolor="black", linewidth=1,
        showgrid=True, gridcolor="#d4d4d4", gridwidth=1,
        zeroline=False, rangeslider=dict(visible=False),
        tickfont=dict(size=12),
    ),
    yaxis=dict(
        side="right", range=[19935.0, 20292.8],
        tick0=0, dtick=50, tickformat=".2f",
        ticks="outside", ticklen=4, tickcolor="black",
        showline=True, linecolor="#8a8a8a", linewidth=1,
        showgrid=True, gridcolor="#d4d4d4", gridwidth=1, zeroline=False,
        minor=dict(dtick=12.5, ticks="outside", ticklen=3, tickcolor="black", showgrid=False),
        tickfont=dict(size=13),
    ),
)

# the page's default body margin would push the chart off the window edges
fig.write_html("out.html", config={"displayModeBar": False},
               post_script="document.body.style.margin='0px';document.body.style.overflow='hidden';")
